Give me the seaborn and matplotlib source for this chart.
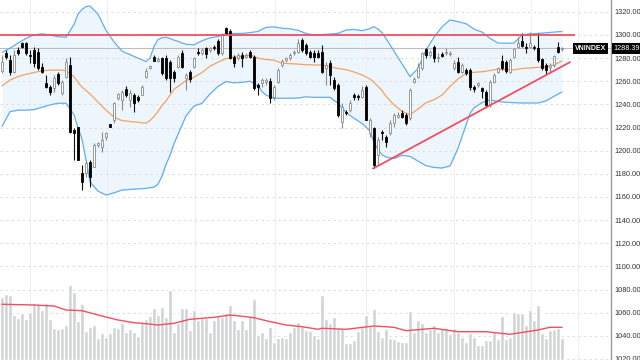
import numpy as np
import pandas as pd
import seaborn as sns
import matplotlib.pyplot as plt
import matplotlib.transforms as mtransforms

# daily OHLC (141 sessions)
opens = [
    1269.2, 1284.1, 1278.4, 1268.3, 1287.0, 1293.4, 1292.8, 1282.7, 1287.0, 1285.6,
    1272.6, 1258.2, 1255.3, 1253.9, 1266.3, 1249.6, 1264.0, 1274.1, 1217.9, 1220.7,
    1180.4, 1180.4, 1190.5, 1186.2, 1204.9, 1203.5, 1211.5, 1222.8, 1226.5, 1245.3,
    1243.8, 1253.0, 1243.8, 1248.1, 1246.7, 1248.1, 1264.0, 1271.2, 1281.3, 1277.8,
    1279.8, 1279.8, 1276.9, 1268.3, 1272.6, 1284.7, 1262.5, 1268.3, 1272.6, 1285.6,
    1284.7, 1288.5, 1287.0, 1289.9, 1295.1, 1284.1, 1305.8, 1303.5, 1281.3, 1279.8,
    1282.7, 1281.3, 1285.0, 1281.3, 1256.8, 1258.2, 1259.7, 1260.2, 1246.7, 1259.7,
    1274.1, 1278.4, 1279.8, 1284.1, 1285.6, 1295.7, 1291.4, 1285.0, 1284.7, 1284.1,
    1285.6, 1271.2, 1275.5, 1261.1, 1256.8, 1225.1, 1233.7, 1235.2, 1248.1, 1247.3,
    1246.7, 1254.8, 1215.0, 1219.3, 1196.2, 1216.4, 1212.1, 1215.0, 1223.6, 1229.4,
    1232.3, 1230.8, 1228.0, 1259.7, 1264.0, 1271.2, 1287.6, 1282.7, 1289.9, 1279.8,
    1283.6, 1284.1, 1283.9, 1271.2, 1276.9, 1268.3, 1269.7, 1269.7, 1254.8, 1256.8,
    1253.9, 1251.0, 1239.5, 1259.7, 1268.3, 1277.8, 1276.9, 1268.3, 1281.3, 1289.9,
    1295.1, 1289.9, 1289.9, 1289.9, 1288.5, 1279.0, 1274.1, 1272.6, 1274.1, 1289.3,
    1287.8,
]
highs = [
    1282.7, 1287.0, 1282.7, 1287.0, 1289.9, 1294.2, 1294.2, 1287.0, 1289.9, 1288.5,
    1275.5, 1265.4, 1256.8, 1265.4, 1268.3, 1261.1, 1279.8, 1281.3, 1219.3, 1220.7,
    1187.6, 1191.9, 1191.9, 1206.3, 1207.8, 1216.4, 1216.4, 1222.8, 1242.4, 1249.6,
    1252.4, 1255.9, 1252.4, 1250.0, 1248.1, 1256.8, 1271.2, 1274.1, 1282.7, 1281.3,
    1281.3, 1282.7, 1278.4, 1269.7, 1282.7, 1287.0, 1266.9, 1269.7, 1281.3, 1288.5,
    1288.5, 1289.9, 1289.9, 1291.3, 1296.6, 1301.4, 1306.6, 1305.0, 1282.7, 1284.1,
    1285.6, 1284.1, 1287.0, 1282.7, 1258.2, 1262.5, 1262.5, 1262.5, 1256.8, 1271.2,
    1279.0, 1281.3, 1284.1, 1287.0, 1296.3, 1297.1, 1292.8, 1287.0, 1287.0, 1287.0,
    1291.4, 1276.9, 1278.4, 1264.0, 1258.2, 1240.9, 1235.2, 1243.8, 1249.6, 1249.0,
    1255.9, 1256.8, 1227.9, 1220.7, 1212.1, 1217.9, 1213.5, 1226.5, 1232.3, 1233.7,
    1235.2, 1232.3, 1253.9, 1264.0, 1275.5, 1285.6, 1289.0, 1287.0, 1291.3, 1284.1,
    1285.6, 1288.5, 1286.4, 1278.4, 1281.3, 1275.5, 1271.2, 1271.2, 1256.8, 1259.7,
    1255.3, 1252.4, 1261.1, 1266.9, 1272.6, 1282.7, 1278.4, 1279.8, 1289.0, 1298.6,
    1301.4, 1292.8, 1302.9, 1291.3, 1301.4, 1279.8, 1275.5, 1275.5, 1282.7, 1294.2,
    1289.5,
]
lows = [
    1267.4, 1279.0, 1265.4, 1266.9, 1282.7, 1288.5, 1282.7, 1275.5, 1272.6, 1269.7,
    1266.9, 1253.9, 1248.1, 1251.0, 1256.8, 1248.1, 1262.5, 1215.6, 1191.9, 1191.9,
    1166.0, 1177.5, 1168.9, 1186.2, 1203.5, 1199.1, 1209.2, 1220.7, 1224.2, 1243.8,
    1235.2, 1246.7, 1238.0, 1233.7, 1242.4, 1248.1, 1262.5, 1270.6, 1277.8, 1276.9,
    1265.4, 1261.1, 1251.0, 1259.7, 1271.2, 1271.2, 1252.4, 1259.7, 1271.2, 1282.7,
    1282.7, 1279.8, 1285.6, 1287.0, 1282.7, 1282.7, 1300.0, 1279.0, 1272.6, 1278.4,
    1272.6, 1279.8, 1279.8, 1252.4, 1248.1, 1255.3, 1256.8, 1240.9, 1243.8, 1258.2,
    1272.6, 1276.9, 1278.4, 1282.7, 1284.1, 1285.6, 1282.7, 1279.8, 1276.9, 1279.8,
    1266.9, 1256.8, 1256.8, 1252.4, 1229.4, 1219.3, 1231.0, 1233.7, 1243.8, 1243.8,
    1245.3, 1226.5, 1212.1, 1184.7, 1187.6, 1209.2, 1203.5, 1213.5, 1220.7, 1227.9,
    1227.9, 1222.2, 1226.5, 1258.2, 1262.5, 1269.7, 1279.8, 1281.3, 1276.9, 1276.9,
    1280.7, 1282.7, 1282.2, 1269.7, 1266.9, 1266.9, 1265.4, 1252.4, 1251.0, 1255.3,
    1245.3, 1238.0, 1238.0, 1258.2, 1266.9, 1269.7, 1267.4, 1266.9, 1279.8, 1288.5,
    1289.9, 1284.1, 1288.5, 1287.0, 1276.9, 1269.7, 1265.4, 1266.9, 1272.6, 1284.1,
    1286.2,
]
closes = [
    1276.9, 1280.7, 1268.3, 1282.7, 1284.1, 1289.9, 1284.1, 1281.8, 1275.5, 1271.2,
    1268.3, 1255.3, 1251.0, 1262.5, 1258.8, 1259.7, 1276.9, 1216.4, 1215.6, 1191.9,
    1173.2, 1189.0, 1177.5, 1204.9, 1206.3, 1209.2, 1215.6, 1220.7, 1240.9, 1248.7,
    1251.0, 1248.1, 1249.6, 1240.9, 1243.8, 1254.8, 1269.2, 1273.2, 1277.8, 1279.5,
    1266.9, 1262.5, 1262.5, 1262.5, 1281.3, 1272.6, 1265.4, 1261.7, 1279.8, 1284.1,
    1287.0, 1283.6, 1288.5, 1288.5, 1284.1, 1300.0, 1301.4, 1279.8, 1275.5, 1282.7,
    1279.8, 1282.7, 1281.3, 1253.9, 1254.8, 1261.1, 1261.1, 1245.3, 1255.3, 1269.7,
    1277.5, 1279.8, 1282.7, 1285.6, 1293.4, 1287.0, 1284.1, 1281.3, 1280.7, 1281.3,
    1268.3, 1274.1, 1265.4, 1253.9, 1230.8, 1238.0, 1232.3, 1241.5, 1246.7, 1246.1,
    1252.4, 1226.5, 1226.5, 1187.6, 1209.2, 1215.0, 1207.8, 1223.6, 1230.8, 1231.0,
    1229.4, 1223.6, 1252.4, 1261.7, 1272.6, 1284.1, 1282.7, 1285.6, 1279.8, 1281.3,
    1281.8, 1285.6, 1284.4, 1275.5, 1268.3, 1274.1, 1267.4, 1254.8, 1253.0, 1258.2,
    1251.9, 1239.5, 1259.7, 1265.4, 1271.2, 1271.2, 1269.2, 1278.4, 1287.6, 1292.8,
    1290.8, 1288.5, 1292.8, 1288.5, 1278.4, 1271.2, 1269.7, 1274.1, 1281.8, 1285.6,
    1288.39,
]
# volume, millions of shares
volumes = [
    633, 660, 650, 450, 417, 473, 407, 483, 567, 560,
    500, 567, 407, 317, 307, 317, 350, 750, 683, 393,
    560, 293, 333, 350, 217, 267, 233, 267, 327, 317,
    367, 283, 307, 283, 240, 383, 407, 440, 517, 450,
    533, 433, 700, 283, 367, 517, 517, 300, 500, 400,
    417, 417, 283, 400, 450, 433, 467, 550, 400, 307,
    400, 307, 440, 607, 250, 283, 217, 333, 183, 217,
    233, 217, 283, 333, 383, 340, 300, 293, 250, 217,
    650, 407, 373, 433, 317, 317, 173, 173, 200, 293,
    333, 450, 340, 507, 293, 233, 307, 217, 207, 193,
    183, 183, 493, 283, 400, 367, 283, 307, 350, 283,
    317, 317, 260, 317, 283, 233, 183, 273, 233, 150,
    150, 200, 200, 293, 207, 440, 207, 233, 483, 473,
    467, 350, 500, 400, 550, 267, 217, 300, 307, 317,
    217,
]

# Bollinger bands (20, 2) sampled along the chart
band_idx = [0, 2, 4, 6, 8, 10, 12, 14, 16, 18, 19, 20, 21, 22, 24, 26, 28, 30, 32, 34,
            36, 37, 38, 39, 40, 41, 42, 43, 44, 45, 46, 48, 50, 52, 54, 56, 58, 60, 62, 64,
            65, 66, 68, 70, 72, 74, 76, 78, 80, 82, 84, 86, 88, 90, 92, 93, 94, 95, 96, 98,
            100, 102, 104, 106, 108, 110, 112, 114, 116, 117, 118, 120, 122, 124, 126, 128,
            130, 132, 134, 136, 138, 140]
bb_upper = [1285, 1288.5, 1293, 1297, 1300, 1301, 1300, 1298.5, 1298, 1309, 1318, 1322, 1324.5, 1325,
            1318, 1304, 1294, 1286, 1283, 1280, 1277, 1280, 1290, 1296, 1297.5, 1298, 1297, 1295.5,
            1294.5, 1293, 1292, 1291.5, 1295, 1297.5, 1298.6, 1301, 1301.3, 1301.3, 1302, 1303,
            1305, 1306.5, 1307, 1305.8, 1305.3, 1304, 1301.3, 1300, 1300.3, 1300.8, 1301.4, 1304.2,
            1304.8, 1303.7, 1305.5, 1307.2, 1305, 1302, 1297, 1286, 1275, 1264, 1271, 1287, 1298,
            1307, 1313, 1311.5, 1309.7, 1307.5, 1305, 1302.5, 1297.1, 1293, 1292.8, 1293, 1300,
            1301, 1301.3, 1301.8, 1302.5, 1303]
bb_mid = [1256, 1261, 1264, 1266, 1267.5, 1269, 1269.5, 1269.7, 1269.2, 1264, 1259, 1255, 1252, 1249,
          1242, 1235, 1229, 1226, 1225.2, 1224.5, 1223.7, 1226, 1229.5, 1234, 1239, 1243, 1248, 1253,
          1255.5, 1258, 1260.5, 1263.5, 1267.5, 1273, 1276.5, 1279.5, 1281, 1281.3, 1282.7, 1280,
          1279.3, 1278.8, 1278.2, 1275.5, 1275.2, 1274.8, 1274.3, 1274.1, 1274, 1272.5, 1271, 1270,
          1268, 1265.5, 1262, 1259, 1255.5, 1252, 1247, 1239.5, 1234, 1231, 1236, 1241.5, 1244,
          1248, 1255.5, 1262, 1266.5, 1267.3, 1267.7, 1268.2, 1269.2, 1270.5, 1270.2, 1269.8, 1271,
          1271.5, 1272, 1272.3, 1274, 1277.5]
bb_lower = [1221, 1233.7, 1235, 1235, 1235.5, 1237.5, 1239.5, 1241, 1241, 1231, 1220, 1210, 1192, 1173,
            1165, 1161.7, 1163.5, 1166, 1166.5, 1167, 1167.4, 1168, 1168.5, 1171, 1178, 1188, 1196,
            1206, 1214, 1222, 1230, 1238.5, 1241, 1249, 1255.5, 1259.7, 1258.6, 1259, 1260, 1256,
            1251, 1248, 1245.3, 1245.3, 1245.3, 1245.5, 1246.5, 1246.1, 1246.1, 1246.1, 1241, 1233,
            1228, 1223.6, 1217, 1207, 1201, 1196.5, 1194.5, 1193.2, 1196, 1195, 1191, 1187, 1185.5,
            1185, 1186.8, 1202, 1222, 1232, 1237, 1241.5, 1243.8, 1242.5, 1241.8, 1241.5, 1241.2,
            1241.2, 1241.2, 1243, 1247, 1250.7]

# 20-day volume average
vol_ma_idx = [0, 8, 13, 16, 20, 24, 29, 33, 35, 39, 43, 47, 53, 57, 61, 63, 66, 71, 75, 79,
              80, 86, 93, 98, 101, 108, 114, 121, 127, 134, 137, 140]
vol_ma = [557, 550, 540, 500, 493, 450, 400, 373, 367, 350, 367, 407, 427, 450, 433, 423, 393, 350,
          333, 307, 317, 307, 340, 327, 293, 317, 283, 283, 257, 300, 327, 327]

trend_idx = [92.75, 142]
trend_val = [1184.5, 1276.5]
resistance = 1300
last_price = 1288.39
month_idx = [7, 26.25, 48.25, 68.25, 91, 113, 132.25, 144]
price_ticks = list(range(1020, 1340, 20))

assert len(opens) == len(highs) == len(lows) == len(closes) == len(volumes)

df = pd.DataFrame({"o": opens, "h": highs, "l": lows, "c": closes, "v": volumes})
df["i"] = np.arange(len(df))
up = df.c >= df.o
df["lo"] = np.minimum(df.o, df.c)
df["hgt"] = np.maximum((df.c - df.o).abs(), 0.4)

sns.set_style("white")
plt.rcParams['font.family'] = ['Liberation Sans', 'DejaVu Sans']

fig = plt.figure(figsize=(6.4, 3.6), dpi=100)
ax = fig.add_axes([0, 0, 611 / 640, 1])
vax = ax.twinx()

red = "#ef4f5e"
blue = "#63acef"

# bands
ax.fill_between(band_idx, bb_lower, bb_upper, color="#eef6fd", lw=0, zorder=0.2)
sns.lineplot(x=band_idx, y=bb_upper, ax=ax, color=blue, lw=0.9, estimator=None, sort=False, zorder=2)
sns.lineplot(x=band_idx, y=bb_lower, ax=ax, color=blue, lw=0.9, estimator=None, sort=False, zorder=2)
sns.lineplot(x=band_idx, y=bb_mid, ax=ax, color="#f5a15f", lw=0.9, estimator=None, sort=False, zorder=2)

# candles
ax.vlines(df.i[up], df.l[up], df.h[up], colors="#8a8a8a", lw=0.8, zorder=3)
ax.vlines(df.i[~up], df.l[~up], df.h[~up], colors="#111111", lw=0.8, zorder=3)
ax.bar(df.i[up], df.hgt[up], bottom=df.lo[up], width=0.72, color="white",
       edgecolor="#8a8a8a", lw=0.6, zorder=4)
ax.bar(df.i[~up], df.hgt[~up], bottom=df.lo[~up], width=0.72, color="black",
       edgecolor="black", lw=0.6, zorder=4)

# price line, resistance and trend
ax.axhline(last_price, color="#bdbdbd", lw=0.8, zorder=1)
ax.hlines(resistance, -0.5, 143.25, color=red, lw=1.3, zorder=5)
ax.plot(trend_idx, trend_val, color=red, lw=1.3, zorder=5)

ax.set_xlim(-0.5, 152.25)
ax.set_ylim(1019.1, 1330.2)
ax.set_xticks(month_idx)
ax.set_yticks(price_ticks)
ax.set_yticklabels([f"{t:.2f}" for t in price_ticks])
ax.yaxis.tick_right()
ax.tick_params(axis="y", length=0, pad=2.5, labelsize=5.3, labelcolor="#333333")
ax.tick_params(axis="x", length=0, labelbottom=False)
ax.xaxis.grid(True, color="#f0f0f0", lw=0.8)
ax.yaxis.grid(True, color="#dddddd", lw=0.8, ls=(0, (2, 3)))
ax.set_axisbelow(True)
ax.set_xlabel("")
ax.set_ylabel("")
for s in ["top", "left", "bottom"]:
    ax.spines[s].set_visible(False)
ax.spines["right"].set_color("#9a9a9a")
ax.spines["right"].set_linewidth(1)

# last price tags
trans = mtransforms.blended_transform_factory(ax.transAxes, ax.transData)
ax.text(1.004, last_price, f"{last_price:.2f}", transform=trans, ha="left", va="center",
        fontsize=5.2, color="white", clip_on=False, zorder=10,
        bbox=dict(boxstyle="square,pad=0.25", fc="black", ec="none"))
ax.text(0.992, last_price, "VNINDEX", transform=trans, ha="right", va="center",
        fontsize=5, fontweight="bold", color="white", zorder=10,
        bbox=dict(boxstyle="square,pad=0.3", fc="black", ec="none"))

# volume
vax.bar(df.i, df.v, width=0.8, color="#d2d3d7", zorder=1)
sns.lineplot(x=vol_ma_idx, y=vol_ma, ax=vax, color=red, lw=1.0, estimator=None, sort=False)
vax.set_ylim(0, 3600)
vax.set_yticks([])
vax.set_ylabel("")
for s in vax.spines.values():
    s.set_visible(False)

fig.savefig("out.png", dpi=100)
